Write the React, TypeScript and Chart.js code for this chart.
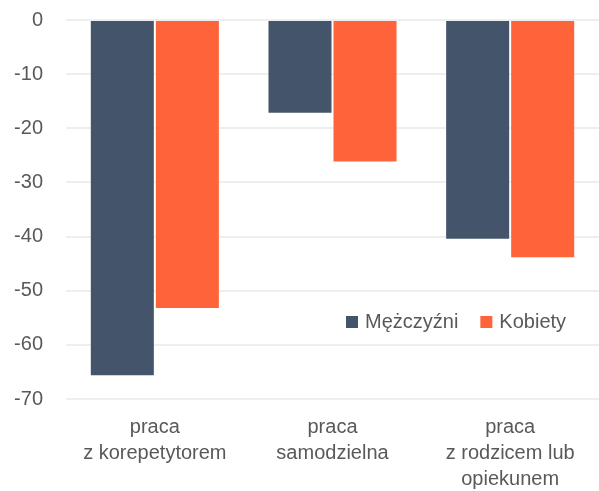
import React, { useEffect, useRef } from "react";
import { Chart, registerables } from "chart.js";

Chart.register(...registerables);

const categories: string[][] = [
  ["praca", "z korepetytorem"],
  ["praca", "samodzielna"],
  ["praca", "z rodzicem lub", "opiekunem"],
];
const seriesNames = ["Mężczyźni", "Kobiety"];
const men = [-65.8, -17.3, -40.6];
const women = [-53.4, -26.3, -44.0];
const colors = ["#44546A", "#FF6339"];
const yMin = -70;
const yMax = 0;
const yStep = 10;

const FONT = "'Liberation Sans', Arial, sans-serif";
const TEXT = "#595959";

const legendPlugin = {
  id: "insideLegend",
  afterDraw(chart: any) {
    const ctx = chart.ctx;
    const area = chart.chartArea;
    ctx.save();
    ctx.font = `20px ${FONT}`;
    ctx.textBaseline = "middle";
    ctx.textAlign = "left";
    let x = area.right - 253;
    const y = area.top + 302;
    chart.data.datasets.forEach((ds: any) => {
      ctx.fillStyle = ds.backgroundColor;
      ctx.fillRect(x, y - 6, 12, 12);
      x += 19;
      ctx.fillStyle = TEXT;
      ctx.fillText(ds.label, x, y);
      x += ctx.measureText(ds.label).width + 22;
    });
    ctx.restore();
  },
};

export default function App() {
  const ref = useRef<HTMLCanvasElement>(null);
  useEffect(() => {
    if (!ref.current) return;
    const chart = new Chart(ref.current, {
      type: "bar",
      data: {
        labels: categories,
        datasets: [
          {
            label: seriesNames[0],
            data: men,
            backgroundColor: colors[0],
            borderColor: "rgba(255,255,255,0.35)",
            borderWidth: 1,
          },
          {
            label: seriesNames[1],
            data: women,
            backgroundColor: colors[1],
            borderColor: "rgba(255,255,255,0.35)",
            borderWidth: 1,
          },
        ],
      },
      options: {
        animation: false,
        responsive: false,
        maintainAspectRatio: false,
        categoryPercentage: 0.732,
        barPercentage: 1,
        layout: { padding: { top: 20, right: 0, left: 0, bottom: 0 } },
        plugins: {
          legend: { display: false },
          tooltip: { enabled: false },
        },
        scales: {
          x: {
            afterFit(scale: any) {
              scale.height = 92;
              scale.paddingLeft = 0;
              scale.paddingRight = 0;
            },
            grid: { display: false, drawTicks: false },
            border: { display: false },
            ticks: {
              color: TEXT,
              font: { family: FONT, size: 20, lineHeight: 1.28 },
              padding: 16,
              maxRotation: 0,
              autoSkip: false,
            },
          },
          y: {
            min: yMin,
            max: yMax,
            afterFit(scale: any) {
              scale.width = 66;
              scale.paddingTop = 0;
              scale.paddingBottom = 0;
            },
            grid: { color: "#EEEEEE", lineWidth: 2, drawTicks: false },
            border: { display: false },
            ticks: {
              stepSize: yStep,
              color: TEXT,
              padding: 23,
              font: { family: FONT, size: 20 },
            },
          },
        },
      },
      plugins: [legendPlugin],
    });
    return () => chart.destroy();
  }, []);
  return (
    <div style={{ position: "fixed", left: 0, top: 0, width: 599, height: 491, background: "#fff" }}>
      <canvas ref={ref} width={599} height={491} style={{ display: "block" }} />
    </div>
  );
}
